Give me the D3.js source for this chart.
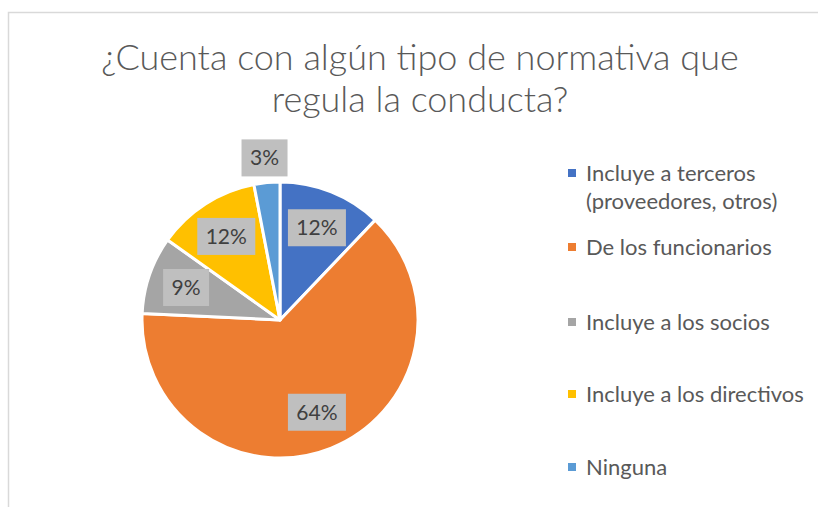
<!DOCTYPE html>
<html>
<head>
  <meta charset="utf-8">
  <script src="https://cdnjs.cloudflare.com/ajax/libs/d3/7.8.5/d3.min.js"></script>
  <style>
    body { margin: 0; background: #fff; }
    text { font-family: Lato, "Open Sans", sans-serif; }
  </style>
</head>
<body>
  <div id="chart"></div>
  <script>
    // Data (counts out of 33)
    const categories = ["Incluye a terceros (proveedores, otros)", "De los funcionarios",
      "Incluye a los socios", "Incluye a los directivos", "Ninguna"];
    const legendLines = [["Incluye a terceros", "(proveedores, otros)"], ["De los funcionarios"],
      ["Incluye a los socios"], ["Incluye a los directivos"], ["Ninguna"]];
    const values = [4, 21, 3, 4, 1];
    const colors = ["#4472C4", "#ED7D31", "#A5A5A5", "#FFC000", "#5B9BD5"];
    const titleLines = ["¿Cuenta con algún tipo de normativa que", "regula la conducta?"];

    const width = 818, height = 507;
    const svg = d3.select("#chart").append("svg")
      .attr("width", width).attr("height", height);

    // chart frame
    svg.append("rect")
      .attr("x", 8.5).attr("y", 12.5)
      .attr("width", 830).attr("height", 520)
      .attr("fill", "#fff").attr("stroke", "#D9D9D9").attr("stroke-width", 1.5);

    // title
    svg.append("g").selectAll("text")
      .data(titleLines)
      .enter().append("text")
      .attr("x", 420)
      .attr("y", (d, i) => 70 + i * 42)
      .attr("text-anchor", "middle")
      .attr("font-size", 36)
      .attr("font-weight", 300)
      .attr("fill", "#595959")
      .text(d => d);

    // pie
    const cx = 280, cy = 320, r = 138;
    const total = d3.sum(values);
    const pie = d3.pie().sort(null).value(d => d);
    const arcs = pie(values);
    const arc = d3.arc().innerRadius(0).outerRadius(r);

    const g = svg.append("g").attr("transform", `translate(${cx},${cy})`);
    g.selectAll("path")
      .data(arcs)
      .enter().append("path")
      .attr("d", arc)
      .attr("fill", (d, i) => colors[i])
      .attr("stroke", "#fff")
      .attr("stroke-width", 3)
      .attr("stroke-linejoin", "round");

    // data labels: inside for larger slices, outside end for the small one
    const inner = d3.arc().innerRadius(r * 0.72).outerRadius(r * 0.72);
    const outer = d3.arc().innerRadius(r * 1.18).outerRadius(r * 1.18);
    const labels = g.selectAll("g.lbl")
      .data(arcs)
      .enter().append("g")
      .attr("class", "lbl")
      .attr("transform", d => {
        const p = (d.value / total < 0.05 ? outer : inner).centroid(d);
        return `translate(${p[0]},${p[1]})`;
      });
    labels.append("rect")
      .attr("x", d => d.value / total < 0.1 ? -23 : -29)
      .attr("y", -18.5)
      .attr("width", d => d.value / total < 0.1 ? 46 : 58)
      .attr("height", 37)
      .attr("fill", "#BFBFBF");
    labels.append("text")
      .attr("text-anchor", "middle")
      .attr("dy", "0.36em")
      .attr("font-size", 21)
      .attr("fill", "#404040")
      .text(d => d3.format(".0%")(d.value / total));

    // legend
    const legendY = [173, 247, 322, 394, 467];
    const leg = svg.append("g").selectAll("g")
      .data(categories)
      .enter().append("g")
      .attr("transform", (d, i) => `translate(568,${legendY[i]})`);
    leg.append("rect")
      .attr("x", 0).attr("y", -4)
      .attr("width", 8).attr("height", 8)
      .attr("fill", (d, i) => colors[i]);
    leg.each(function(d, i) {
      d3.select(this).selectAll("text")
        .data(legendLines[i])
        .enter().append("text")
        .attr("x", 18)
        .attr("y", (t, j) => j * 28)
        .attr("dy", "0.35em")
        .attr("font-size", 22)
        .attr("fill", "#595959")
        .text(t => t);
    });
  </script>
</body>
</html>
